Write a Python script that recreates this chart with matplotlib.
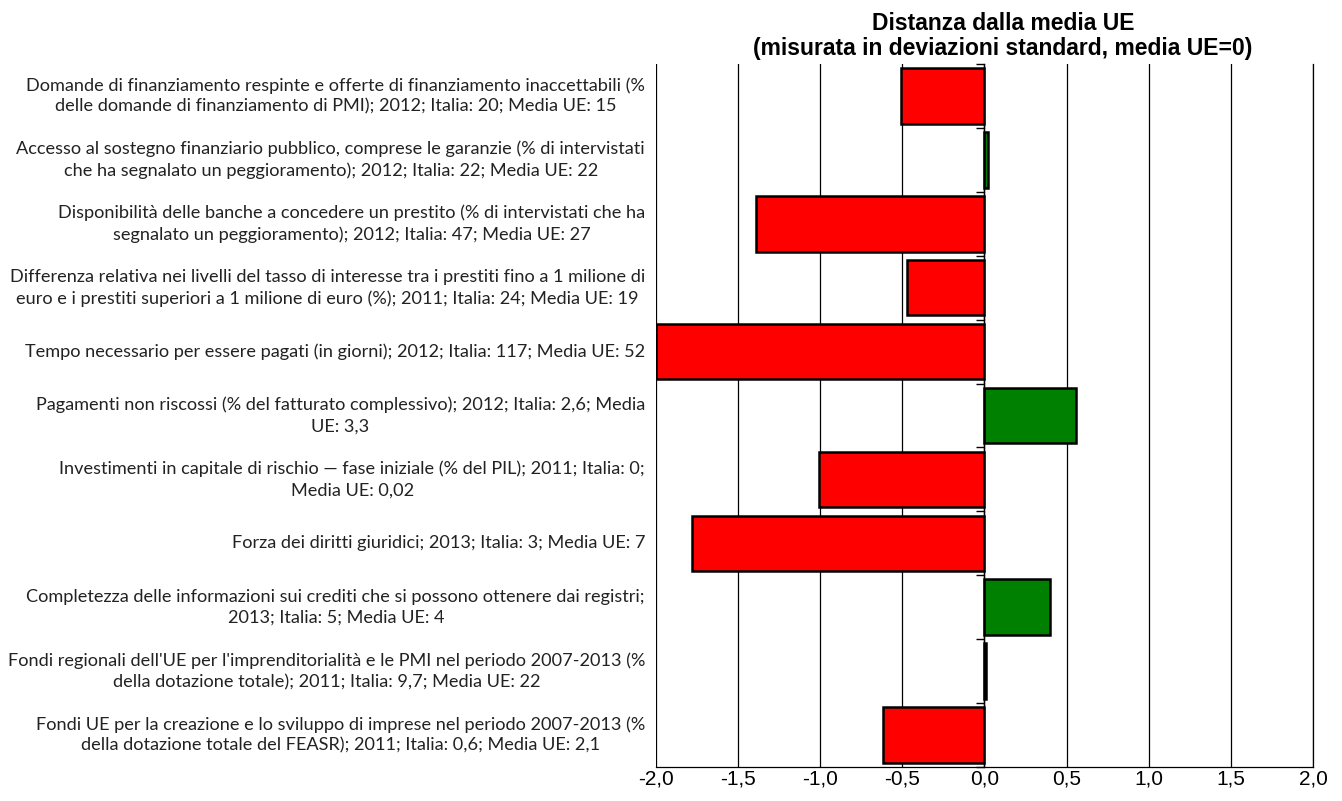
import matplotlib
matplotlib.use("Agg")
import matplotlib.pyplot as plt
from matplotlib.transforms import blended_transform_factory

# Indicator descriptions (top to bottom)
labels = [
    "Domande di finanziamento respinte e offerte di finanziamento inaccettabili (%\ndelle domande di finanziamento di PMI); 2012; Italia: 20; Media UE: 15",
    "Accesso al sostegno finanziario pubblico, comprese le garanzie (% di intervistati\nche ha segnalato un peggioramento); 2012; Italia: 22; Media UE: 22",
    "Disponibilità delle banche a concedere un prestito (% di intervistati che ha\nsegnalato un peggioramento); 2012; Italia: 47; Media UE: 27",
    "Differenza relativa nei livelli del tasso di interesse tra i prestiti fino a 1 milione di\neuro e i prestiti superiori a 1 milione di euro (%); 2011; Italia: 24; Media UE: 19",
    "Tempo necessario per essere pagati (in giorni); 2012; Italia: 117; Media UE: 52",
    "Pagamenti non riscossi (% del fatturato complessivo); 2012; Italia: 2,6; Media\nUE: 3,3",
    "Investimenti in capitale di rischio — fase iniziale (% del PIL); 2011; Italia: 0;\nMedia UE: 0,02",
    "Forza dei diritti giuridici; 2013; Italia: 3; Media UE: 7",
    "Completezza delle informazioni sui crediti che si possono ottenere dai registri;\n2013; Italia: 5; Media UE: 4",
    "Fondi regionali dell'UE per l'imprenditorialità e le PMI nel periodo 2007-2013 (%\ndella dotazione totale); 2011; Italia: 9,7; Media UE: 22",
    "Fondi UE per la creazione e lo sviluppo di imprese nel periodo 2007-2013 (%\ndella dotazione totale del FEASR); 2011; Italia: 0,6; Media UE: 2,1",
]

# Distance from EU average, in standard deviations
values = [-0.51, 0.02, -1.39, -0.47, -2.0, 0.56, -1.01, -1.78, 0.40, 0.01, -0.62]

xticks = [-2.0, -1.5, -1.0, -0.5, 0.0, 0.5, 1.0, 1.5, 2.0]
xticklabels = ["-2,0", "-1,5", "-1,0", "-0,5", "0,0", "0,5", "1,0", "1,5", "2,0"]

title = "Distanza dalla media UE\n(misurata in deviazioni standard, media UE=0)"

fig = plt.figure(figsize=(13.42, 8.01), dpi=100)
ax = fig.add_axes([0.4888, 0.0424, 0.4896, 0.8777])

n = len(values)
ypos = list(range(n))
colors = ["#FF0000" if v < 0 else "#008000" for v in values]
ax.barh(ypos, values, height=0.87, color=colors, edgecolor="black",
        linewidth=1.8, zorder=3)

ax.set_xlim(-2.0, 2.0)
ax.set_ylim(n - 0.5, -0.5)

# vertical gridlines
ax.set_xticks(xticks)
ax.set_xticklabels(xticklabels, fontsize=15, family="Liberation Sans")
ax.xaxis.grid(True, color="black", linewidth=0.9, zorder=1)
ax.tick_params(axis="x", length=0, pad=2)

# category axis sits at zero, with ticks at category boundaries
ax.spines["left"].set_position(("data", 0))
ax.spines["left"].set_linewidth(1.0)
ax.spines["left"].set_zorder(4)
ax.spines["top"].set_visible(False)
ax.spines["right"].set_linewidth(0.9)
ax.spines["bottom"].set_linewidth(0.9)
ax.set_yticks([i + 0.5 for i in range(-1, n)])
ax.set_yticklabels([])
ax.tick_params(axis="y", direction="out", length=6, width=1.0)

# category descriptions to the left of the plot area
trans = blended_transform_factory(fig.transFigure, ax.transData)
for y, lab in zip(ypos, labels):
    fig.text(645 / 1342, y, lab, transform=trans, ha="right", va="center",
             multialignment="center", fontsize=13.1, family="Lato",
             color="#222222", linespacing=1.38)

fig.text(1003 / 1342, 1 - 36 / 801, title, ha="center", va="center",
         fontsize=16.5, fontweight="bold", family="Liberation Sans",
         linespacing=1.12)

fig.savefig("out.png", dpi=100)
